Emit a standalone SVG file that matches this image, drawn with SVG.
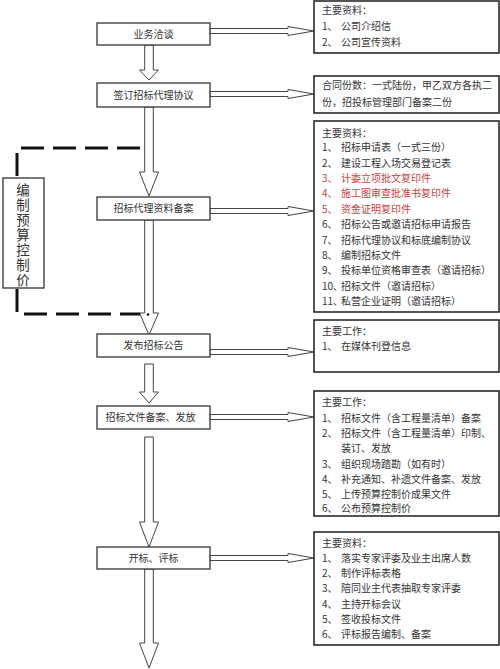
<svg xmlns="http://www.w3.org/2000/svg" width="500" height="669" viewBox="0 0 500 669">
<style>
  .bg{fill:#ffffff}
  .mbox{fill:#ffffff;stroke:#333333;stroke-width:1.3}
  .rbox{fill:#ffffff;stroke:#2a2a2a;stroke-width:1.6}
  .arr{fill:#ffffff;stroke:#444444;stroke-width:1}
  .dash{fill:none;stroke:#111111;stroke-width:3;stroke-dasharray:23 9}
  .lbl{font-family:"Noto Sans CJK SC","Noto Sans",sans-serif;font-size:10px;fill:#333333;text-anchor:middle}
  .t{font-family:"Noto Sans CJK SC","Noto Sans",sans-serif;font-size:10px;fill:#333333}
  .red{fill:#c84040}
  .vt{font-family:"Noto Sans CJK SC","Noto Sans",sans-serif;font-size:13.5px;fill:#333333;writing-mode:vertical-rl;letter-spacing:1.5px}
</style>
<rect class="bg" x="0" y="0" width="500" height="669"/>
<g id="connectors">
  <polygon class="arr" points="144.7,45 153.3,45 153.3,70 158.5,70 149,80 139.5,70 144.7,70"/>
  <polygon class="arr" points="144.7,107 153.3,107 153.3,172 158.5,172 149,196 139.5,172 144.7,172"/>
  <polygon class="arr" points="144.7,220 153.3,220 153.3,313 158.5,313 149,335 139.5,313 144.7,313"/>
  <polygon class="arr" points="144.7,364 153.3,364 153.3,392 158.5,392 149,403 139.5,392 144.7,392"/>
  <polygon class="arr" points="144.7,437 153.3,437 153.3,522 158.5,522 149,547 139.5,522 144.7,522"/>
  <polygon class="arr" points="144.7,569 153.3,569 153.3,643 158.5,643 149,668 139.5,643 144.7,643"/>
  <polygon class="arr" points="210,28.5 288,28.5 288,26.5 314,31 288,35.5 288,33.5 210,33.5"/>
  <polygon class="arr" points="210,91.5 288,91.5 288,89.5 314,94 288,98.5 288,96.5 210,96.5"/>
  <polygon class="arr" points="210,208.5 288,208.5 288,206.5 314,211 288,215.5 288,213.5 210,213.5"/>
  <polygon class="arr" points="210,349.5 288,349.5 288,347.5 314,352 288,356.5 288,354.5 210,354.5"/>
  <polygon class="arr" points="210,414.5 288,414.5 288,412.5 314,417 288,421.5 288,419.5 210,419.5"/>
  <polygon class="arr" points="210,555.5 288,555.5 288,553.5 314,558 288,562.5 288,560.5 210,560.5"/>
  <path class="dash" d="M17,176 V148 H140"/>
  <path class="dash" d="M17,289 V314 H140"/>
  <circle cx="148" cy="314.5" r="1.3" fill="#111111"/>
</g>
<g id="n-yewu">
  <rect class="mbox" x="97" y="23" width="113" height="22"/>
  <text class="lbl" x="153.5" y="37.7">业务洽谈</text>
</g>
<g id="n-qianding">
  <rect class="mbox" x="97" y="83" width="113" height="24"/>
  <text class="lbl" x="153.5" y="98.7">签订招标代理协议</text>
</g>
<g id="n-beian">
  <rect class="mbox" x="97" y="197" width="113" height="23"/>
  <text class="lbl" x="153.5" y="212.2">招标代理资料备案</text>
</g>
<g id="n-fabu">
  <rect class="mbox" x="97" y="334" width="113" height="23"/>
  <text class="lbl" x="153.5" y="349.2">发布招标公告</text>
</g>
<g id="n-wenjian">
  <rect class="mbox" x="97" y="406" width="113" height="23"/>
  <text class="lbl" x="150.5" y="421.2">招标文件备案、发放</text>
</g>
<g id="n-kaibiao">
  <rect class="mbox" x="97" y="547" width="113" height="22"/>
  <text class="lbl" x="153.5" y="561.7">开标、评标</text>
</g>
<g id="n-yusuan">
  <rect class="mbox" x="3" y="178" width="41" height="110"/>
  <text class="vt" x="23" y="183">编制预算控制价</text>
</g>
<g id="r1">
  <rect class="rbox" x="314" y="1" width="185" height="52"/>
  <text class="t" x="322" y="13.7">主要资料：</text>
  <text class="t" x="322" y="29.7">1、<tspan x="341">公司介绍信</tspan></text>
  <text class="t" x="322" y="45.7">2、<tspan x="341">公司宣传资料</tspan></text>
</g>
<g id="r2">
  <rect class="rbox" x="314" y="76" width="185" height="37"/>
  <text class="t" x="322" y="88.7">合同份数：一式陆份，甲乙双方各执二</text>
  <text class="t" x="322" y="105.7">份，招投标管理部门备案二份</text>
</g>
<g id="r3">
  <rect class="rbox" x="314" y="121" width="185" height="191"/>
  <text class="t" x="322" y="136.7">主要资料：</text>
  <text class="t" x="322" y="151.2">1、<tspan x="341">招标申请表（一式三份）</tspan></text>
  <text class="t" x="322" y="166.6">2、<tspan x="341">建设工程入场交易登记表</tspan></text>
  <text class="t red" x="322" y="182">3、<tspan x="341">计委立项批文复印件</tspan></text>
  <text class="t red" x="322" y="197.4">4、<tspan x="341">施工图审查批准书复印件</tspan></text>
  <text class="t red" x="322" y="212.8">5、<tspan x="341">资金证明复印件</tspan></text>
  <text class="t" x="322" y="228.2">6、<tspan x="341">招标公告或邀请招标申请报告</tspan></text>
  <text class="t" x="322" y="243.6">7、<tspan x="341">招标代理协议和标底编制协议</tspan></text>
  <text class="t" x="322" y="259">8、<tspan x="341">编制招标文件</tspan></text>
  <text class="t" x="322" y="274.4">9、<tspan x="341">投标单位资格审查表（邀请招标）</tspan></text>
  <text class="t" x="322" y="289.8">10、<tspan x="341">招标文件（邀请招标）</tspan></text>
  <text class="t" x="322" y="305.2">11、<tspan x="341">私营企业证明（邀请招标）</tspan></text>
</g>
<g id="r4">
  <rect class="rbox" x="314" y="320" width="185" height="52"/>
  <text class="t" x="322" y="334.7">主要工作：</text>
  <text class="t" x="322" y="349.7">1、<tspan x="341">在媒体刊登信息</tspan></text>
</g>
<g id="r5">
  <rect class="rbox" x="314" y="391" width="185" height="125"/>
  <text class="t" x="322" y="405.7">主要工作：</text>
  <text class="t" x="322" y="421.7">1、<tspan x="341">招标文件（含工程量清单）备案</tspan></text>
  <text class="t" x="322" y="436.7">2、<tspan x="341">招标文件（含工程量清单）印制、</tspan></text>
  <text class="t" x="341" y="451.7">装订、发放</text>
  <text class="t" x="322" y="467.7">3、<tspan x="341">组织现场踏勘（如有时）</tspan></text>
  <text class="t" x="322" y="482.7">4、<tspan x="341">补充通知、补遗文件备案、发放</tspan></text>
  <text class="t" x="322" y="497.7">5、<tspan x="341">上传预算控制价成果文件</tspan></text>
  <text class="t" x="322" y="511.7">6、<tspan x="341">公布预算控制价</tspan></text>
</g>
<g id="r6">
  <rect class="rbox" x="314" y="532" width="185" height="113"/>
  <text class="t" x="322" y="546.7">主要资料：</text>
  <text class="t" x="322" y="561.7">1、<tspan x="341">落实专家评委及业主出席人数</tspan></text>
  <text class="t" x="322" y="576.7">2、<tspan x="341">制作评标表格</tspan></text>
  <text class="t" x="322" y="591.7">3、<tspan x="341">陪同业主代表抽取专家评委</tspan></text>
  <text class="t" x="322" y="607.7">4、<tspan x="341">主持开标会议</tspan></text>
  <text class="t" x="322" y="622.7">5、<tspan x="341">签收投标文件</tspan></text>
  <text class="t" x="322" y="637.7">6、<tspan x="341">评标报告编制、备案</tspan></text>
</g>
</svg>
